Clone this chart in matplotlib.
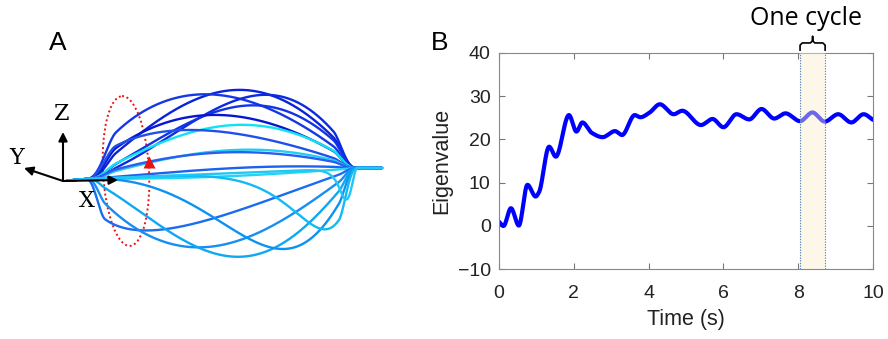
import numpy as np
import matplotlib
matplotlib.use("Agg")
import matplotlib.pyplot as plt
from matplotlib.patches import Ellipse
from matplotlib.transforms import blended_transform_factory

# ---------------- Panel B data: eigenvalue over time ----------------
time_s = [0.0, 0.12, 0.32, 0.53, 0.76, 0.98, 1.07, 1.34, 1.52, 1.87, 2.07, 2.23,
          2.48, 2.77, 3.10, 3.29, 3.63, 3.78, 4.03, 4.30, 4.67, 4.90, 5.40, 5.71,
          6.00, 6.35, 6.69, 7.02, 7.36, 7.66, 8.05, 8.38, 8.71, 9.07, 9.42, 9.75, 10.0]
eigenvalue = [1.0, 0.0, 4.1, 0.1, 9.5, 6.8, 7.8, 18.3, 16.0, 25.6, 21.8, 23.9,
              21.5, 20.5, 21.9, 21.0, 25.6, 25.1, 26.2, 28.1, 25.8, 26.6, 23.3, 24.7,
              22.8, 25.8, 24.6, 27.0, 24.8, 26.0, 24.2, 26.2, 24.1, 25.8, 23.9, 25.8, 24.5]
cycle_start, cycle_end = 8.05, 8.72
x_ticks = [0, 2, 4, 6, 8, 10]
y_ticks = [-10, 0, 10, 20, 30, 40]

# ---------------- Panel A data: fin-ray trajectories over one cycle ----------------
# height of each trajectory relative to the mid line (+ up), position of its extremum
# along the span (0 = root, 1 = tip) and its colour
ray_height = [83, 80, 77, 67, 59, 48, 45, 23, 21, 5, -3, -54, -73, -84, -78, -60, -31]
ray_peak = [0.55, 0.42, 0.65, 0.60, 0.45, 0.55, 0.35, 0.55, 0.50, 0.60, 0.50,
            0.24, 0.43, 0.57, 0.73, 0.88, 0.98]
ray_color = ['#0a22dc', '#1438e6', '#0c2ae0', '#1234e4', '#0616d2', '#10e2f4',
             '#2050ea', '#22cdf4', '#2a5ef0', '#1a62f0', '#22d4f4', '#1a6cf0',
             '#168ef2', '#0ea8f2', '#0c92f2', '#12baf4', '#20c6f4']


def pchip(x, y, xn):
    """Monotone piecewise cubic Hermite curve through the knots."""
    x = np.asarray(x, float)
    y = np.asarray(y, float)
    h = np.diff(x)
    delta = np.diff(y) / h
    d = np.zeros_like(y)
    for k in range(1, len(x) - 1):
        if delta[k - 1] * delta[k] > 0:
            w1 = 2 * h[k] + h[k - 1]
            w2 = h[k] + 2 * h[k - 1]
            d[k] = (w1 + w2) / (w1 / delta[k - 1] + w2 / delta[k])
    d[0] = delta[0]
    d[-1] = delta[-1]
    idx = np.clip(np.searchsorted(x, xn) - 1, 0, len(x) - 2)
    t = (xn - x[idx]) / h[idx]
    h00 = 2 * t**3 - 3 * t**2 + 1
    h10 = t**3 - 2 * t**2 + t
    h01 = -2 * t**3 + 3 * t**2
    h11 = t**3 - t**2
    return (h00 * y[idx] + h10 * h[idx] * d[idx] + h01 * y[idx + 1]
            + h11 * h[idx] * d[idx + 1])


def smoothstep(v):
    v = np.clip(v, 0, 1)
    return v * v * (3 - 2 * v)


W, H = 888, 339
fig = plt.figure(figsize=(W / 100, H / 100), dpi=100)

# ======================= Panel A =======================
axa = fig.add_axes([0, 0, 420 / W, 1])
axa.set_xlim(0, 420)
axa.set_ylim(H, 0)
axa.axis('off')

root = (63, 181)          # origin of the coordinate triad
fan_x0, fan_x1 = 86, 358  # span of the fin rays
tip_x = 382
base_y0, base_y1 = 179, 168

# red dotted rotation path
axa.add_patch(Ellipse((126, 171), 46, 150, angle=-3, fill=False,
                      edgecolor='#ee1111', lw=1.4, ls=(0, (1, 1.4)), zorder=1))

xs = np.linspace(root[0] + 4, tip_x, 700)
s = np.clip((xs - fan_x0) / (fan_x1 - fan_x0), 0, 1)
base = np.interp(xs, [root[0], fan_x0, fan_x1, tip_x],
                 [root[1], base_y0, base_y1, base_y1])
for amp, p, col in zip(ray_height, ray_peak, ray_color):
    gamma = np.log(0.5) / np.log(p)
    if amp > 0:
        # arching rays: quick rise past the root, rounded crown
        g = np.sin(np.pi * s ** gamma) ** 0.85
        g *= smoothstep(s / 0.11) * smoothstep((1 - s) / 0.09)
    else:
        # sagging rays: travelling trough
        g = np.sin(np.pi * s ** gamma)
        g *= smoothstep(s / 0.07) * smoothstep((1 - s) / 0.07)
    g = g / g.max()
    axa.plot(xs, base - amp * g, color=col, lw=1.7, solid_capstyle='round', zorder=2)

# rotation direction marker
axa.plot([149], [162], marker='^', color='#ee1111', ms=8, mec='none', zorder=3)

# coordinate triad
arrow_kw = dict(arrowstyle='-|>', color='black', lw=1.5, mutation_scale=13,
                shrinkA=0, shrinkB=0)
axa.annotate('', xy=(63, 132), xytext=root, arrowprops=arrow_kw, zorder=4)
axa.annotate('', xy=(24, 168), xytext=root, arrowprops=arrow_kw, zorder=4)
axa.annotate('', xy=(118, 180), xytext=root, arrowprops=arrow_kw, zorder=4)
serif = dict(family='DejaVu Serif', fontsize=16, ha='center', va='center')
axa.text(62, 114, 'Z', **serif)
axa.text(17, 158, 'Y', **serif)
axa.text(87, 201, 'X', **serif)

fig.text(58 / W, 1 - 43 / H, 'A', fontsize=19, family='Liberation Sans',
         ha='center', va='center')

# ======================= Panel B =======================
left, right, top, bottom = 499, 873, 52.7, 269.3
axb = fig.add_axes([left / W, 1 - bottom / H, (right - left) / W, (bottom - top) / H])

tt = np.linspace(0, 10, 1500)
axb.plot(tt, pchip(time_s, eigenvalue, tt), color='#0000ff', lw=3.0,
         solid_capstyle='round', zorder=2)

# one gait cycle highlighted
axb.axvspan(cycle_start, cycle_end, color='#faefcd', alpha=0.44, lw=0, zorder=3)
for xc in (cycle_start, cycle_end):
    axb.axvline(xc, color='#5a82c8', lw=0.8, ls=(0, (1.2, 1.2)), zorder=4)

axb.set_xlim(0, 10)
axb.set_ylim(-10, 40)
axb.set_xticks(x_ticks)
axb.set_yticks(y_ticks)
axb.tick_params(direction='in', length=4, width=0.8, color='#777777',
                top=True, right=True, labelsize=14, labelcolor='#222222')
axb.tick_params(axis='x', pad=11)
axb.tick_params(axis='y', pad=6)
for sp in axb.spines.values():
    sp.set_color('#888888')
    sp.set_linewidth(0.8)
for lab in axb.get_xticklabels() + axb.get_yticklabels():
    lab.set_family('Liberation Sans')
axb.set_xlabel('Time (s)', fontsize=15.5, family='Liberation Sans',
               color='#222222', labelpad=5)
axb.set_ylabel('Eigenvalue', fontsize=15.5, family='Liberation Sans',
               color='#222222', labelpad=4)

# curly brace above the highlighted cycle
tr = blended_transform_factory(axb.transData, axb.transAxes)
mid = 0.5 * (cycle_start + cycle_end)
r = 0.06
bx = [cycle_start, cycle_start, cycle_start + r, mid - r, mid, mid,
      mid, mid + r, cycle_end - r, cycle_end, cycle_end]
by = [1.012, 1.035, 1.045, 1.045, 1.055, 1.075,
      1.055, 1.045, 1.045, 1.035, 1.012]
axb.plot(bx, by, color='black', lw=1.2, transform=tr, clip_on=False)

fig.text(806 / W, 1 - 25 / H, 'One cycle', fontsize=18, family='Open Sans',
         ha='center', va='baseline')
fig.text(440 / W, 1 - 43.5 / H, 'B', fontsize=19, family='Liberation Sans',
         ha='center', va='center')

fig.savefig('out.png', dpi=100)
